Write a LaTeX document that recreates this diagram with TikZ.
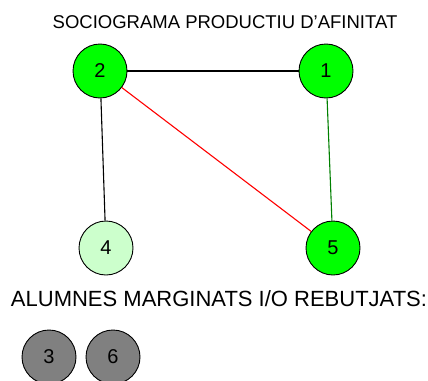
\documentclass[tikz,border=0pt]{standalone}
\usepackage{fontspec}
\setmainfont{Liberation Sans}
\definecolor{chosen}{HTML}{00FF00}
\definecolor{paler}{HTML}{CCFFCC}
\definecolor{outcast}{HTML}{808080}
\definecolor{mutual}{HTML}{008000}
\begin{document}
\begin{tikzpicture}[
  x = 1pt, y = 1pt,
  pupil/.style = {circle, draw, line width = 0.9pt, minimum size = 54pt, inner sep = 0pt, font = \fontsize{20}{20}\selectfont},
  caption/.style = {inner sep = 0pt, anchor = center},
  tie/.style = {line width = 1.1pt}
]
  \useasboundingbox (0, 0) rectangle (428, -380);

  \node[caption, font = \fontsize{18.5}{18.5}\selectfont] (title) at (225, -22) {SOCIOGRAMA PRODUCTIU D'AFINITAT};

  \node[pupil, fill = chosen]  (n2) at (100, -71)  {2};
  \node[pupil, fill = chosen]  (n1) at (326, -71)  {1};
  \node[pupil, fill = paler]   (n4) at (106, -248) {4};
  \node[pupil, fill = chosen]  (n5) at (333, -248) {5};

  \draw[tie]              (n2) -- (n1);
  \draw[tie]              (n2) -- (n4);
  \draw[tie, red]         (n2) -- (n5);
  \draw[tie, mutual]      (n1) -- (n5);

  \node[caption, font = \fontsize{22}{22}\selectfont] (margin) at (219, -299) {ALUMNES MARGINATS I/O REBUTJATS:};

  \node[pupil, fill = outcast] (n3) at (49, -357)  {3};
  \node[pupil, fill = outcast] (n6) at (113, -357) {6};
\end{tikzpicture}
\end{document}
